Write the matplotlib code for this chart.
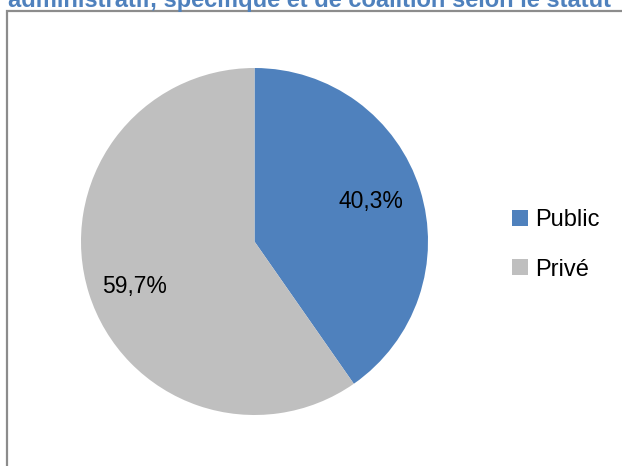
import matplotlib.pyplot as plt
from matplotlib.patches import Rectangle, Patch

# Répartition selon le statut
labels = ['Public', 'Privé']
values = [40.3, 59.7]
colors = ['#4F81BD', '#BFBFBF']
title = 'administratif, spécifique et de coalition selon le statut'

W, H = 622, 466
fig = plt.figure(figsize=(W / 100, H / 100), dpi=100)
fig.patch.set_facecolor('white')

# cadre gris du graphique (coupé à droite et en bas)
fig.patches.append(Rectangle((7.5 / W, -0.1), 1.2, (H - 11) / H + 0.1,
                             transform=fig.transFigure, fill=False,
                             edgecolor='#8C8C8C', linewidth=1.6))

# titre (partiellement hors image en haut)
fig.text(8 / W, 1 - 7 / H, title, fontsize=17, fontweight='bold',
         color='#4F81BD', family='Liberation Sans', va='baseline', ha='left')

# camembert
cx, cy, r = 254.5, 241.5, 173.5
ax = fig.add_axes([(cx - r) / W, (H - cy - r) / H, 2 * r / W, 2 * r / H])
wedges, _ = ax.pie(values, colors=colors, startangle=90, counterclock=False,
                   radius=1.0, wedgeprops=dict(linewidth=0))
ax.set_xlim(-1, 1)
ax.set_ylim(-1, 1)
ax.set_aspect('equal')
ax.axis('off')

# étiquettes de pourcentage
pos = [(0.67, 0.23), (-0.69, -0.26)]
for v, (px, py) in zip(values, pos):
    ax.text(px, py, f'{v:.1f}%'.replace('.', ','), ha='center', va='center',
            fontsize=16.5, family='Liberation Sans', color='black')

# légende
handles = [Patch(facecolor=c, edgecolor='none') for c in colors]
fig.legend(handles, labels, loc='center left',
           bbox_to_anchor=(512 / W, 1 - 245 / H), frameon=False,
           prop=dict(family='Liberation Sans', size=17),
           handlelength=0.68, handleheight=0.68, handletextpad=0.3,
           labelspacing=1.15, borderpad=0, borderaxespad=0)

fig.savefig('out.png', dpi=100)
